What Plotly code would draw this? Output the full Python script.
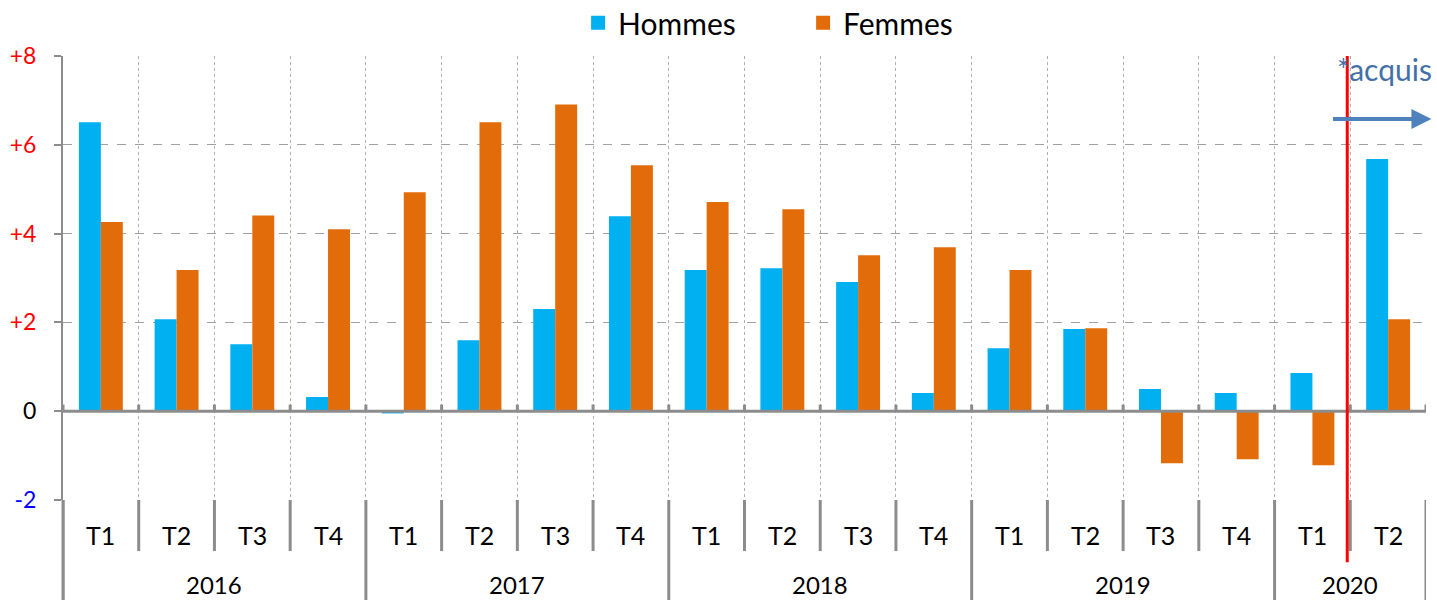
import plotly.graph_objects as go

quarters = ["T1", "T2", "T3", "T4", "T1", "T2", "T3", "T4", "T1", "T2", "T3", "T4",
            "T1", "T2", "T3", "T4", "T1", "T2"]
years = ["2016", "2017", "2018", "2019", "2020"]
year_counts = [4, 4, 4, 4, 2]
hommes = [6.51, 2.07, 1.51, 0.32, -0.05, 1.60, 2.30, 4.39, 3.18, 3.22, 2.91, 0.41,
          1.42, 1.85, 0.50, 0.41, 0.86, 5.68]
femmes = [4.26, 3.18, 4.41, 4.10, 4.93, 6.51, 6.91, 5.54, 4.71, 4.55, 3.51, 3.69,
          3.18, 1.87, -1.17, -1.08, -1.22, 2.07]
y_ticks = [8, 6, 4, 2, 0, -2]
y_tick_labels = ["+8", "+6", "+4", "+2", "0", "-2"]
y_tick_colors = ["#FF0000", "#FF0000", "#FF0000", "#FF0000", "#000000", "#0000FF"]

FONT = "Lato, Carlito, Calibri, sans-serif"
GRAY = "#8c8c8c"
C_H = "#00B0F0"
C_F = "#E36C0A"
n = len(quarters)
xs = list(range(n))

fig = go.Figure()
fig.add_trace(go.Bar(x=xs, y=hommes, name="Hommes", marker_color=C_H,
                     marker_line_width=0, showlegend=False))
fig.add_trace(go.Bar(x=xs, y=femmes, name="Femmes", marker_color=C_F,
                     marker_line_width=0, showlegend=False))
for name, col in [("Hommes", C_H), ("Femmes", C_F)]:
    fig.add_trace(go.Scatter(x=[None], y=[None], mode="markers", name=name,
                             marker=dict(symbol="square", size=14, color=col)))

shapes = []
annotations = []

year_bounds = [-0.5]
for c in year_counts:
    year_bounds.append(year_bounds[-1] + c)

for b in [i - 0.5 for i in range(n + 1)]:
    if b in year_bounds:
        continue
    shapes.append(dict(type="line", xref="x", yref="paper", x0=b, x1=b, y0=0, y1=-0.115,
                       line=dict(color=GRAY, width=3)))
for b in year_bounds:
    shapes.append(dict(type="line", xref="x", yref="paper", x0=b, x1=b, y0=0, y1=-0.23,
                       line=dict(color=GRAY, width=3)))
for b in [i - 0.5 for i in range(n + 1)]:
    shapes.append(dict(type="line", xref="x", yref="y", x0=b, x1=b, y0=0, y1=0.15,
                       line=dict(color=GRAY, width=3)))
shapes.append(dict(type="line", xref="paper", yref="y", x0=0, x1=1, y0=0, y1=0,
                   line=dict(color=GRAY, width=3)))
shapes.append(dict(type="line", xref="x", yref="paper", x0=16.46, x1=16.46, y0=1, y1=-0.14,
                   line=dict(color="#FF0000", width=3)))
shapes.append(dict(type="line", xref="paper", yref="paper", x0=0, x1=0, y0=0, y1=-0.23,
                   line=dict(color=GRAY, width=3)))

for i, q in enumerate(quarters):
    annotations.append(dict(x=i, y=-0.079, xref="x", yref="paper", text=q, showarrow=False,
                            font=dict(family=FONT, size=25, color="#000000"),
                            xanchor="center", yanchor="middle"))
for j, yl in enumerate(years):
    cx = (year_bounds[j] + year_bounds[j + 1]) / 2
    annotations.append(dict(x=cx, y=-0.19, xref="x", yref="paper", text=yl, showarrow=False,
                            font=dict(family=FONT, size=24, color="#000000"),
                            xanchor="center", yanchor="middle"))

annotations.append(dict(x=1.0, y=7.7, xref="paper", yref="y", text="*acquis",
                        showarrow=False, xanchor="right", yanchor="middle", xshift=8,
                        font=dict(family=FONT, size=30, color="#4470A8")))
annotations.append(dict(x=1.004, y=6.58, xref="paper", yref="y", ax=-100, ay=0, text="",
                        showarrow=True, arrowhead=2, arrowsize=1, arrowwidth=4,
                        arrowcolor="#4F81BD"))

fig.update_layout(
    width=1437, height=600,
    margin=dict(l=63, r=11, t=56, b=100, autoexpand=False),
    plot_bgcolor="white", paper_bgcolor="white",
    barmode="group", bargap=0.42, bargroupgap=0,
    font=dict(family=FONT, size=20, color="#000000"),
    showlegend=True,
    legend=dict(orientation="h", x=0.543, xanchor="center", yref="container", y=0.962,
                yanchor="middle", font=dict(family=FONT, size=30, color="#000000"),
                entrywidth=180, entrywidthmode="pixels", bgcolor="rgba(0,0,0,0)",
                itemsizing="trace"),
    xaxis=dict(range=[-0.5, n - 0.5], tickmode="array",
               tickvals=[i - 0.5 for i in range(n + 1)], showticklabels=False,
               ticks="", showgrid=True, griddash="dot", gridcolor="#b0b0b0", gridwidth=1,
               zeroline=False, showline=False, fixedrange=True, automargin=False),
    yaxis=dict(range=[-2, 8], tickmode="array", tickvals=y_ticks,
               ticktext=[f'<span style="color:{c}">{t}</span>'
                         for t, c in zip(y_tick_labels, y_tick_colors)],
               showgrid=True, griddash="dash", gridcolor="#a0a0a0", gridwidth=1,
               zeroline=False, showline=True, linecolor=GRAY, linewidth=2,
               ticks="outside", ticklen=7, tickcolor=GRAY, tickwidth=2,
               ticklabelstandoff=13, tickfont=dict(family=FONT, size=23), automargin=False),
    shapes=shapes, annotations=annotations,
)

fig.write_html("out.html", config={"displayModeBar": False},
               post_script="document.body.style.margin='0';document.body.style.overflow='hidden';")
